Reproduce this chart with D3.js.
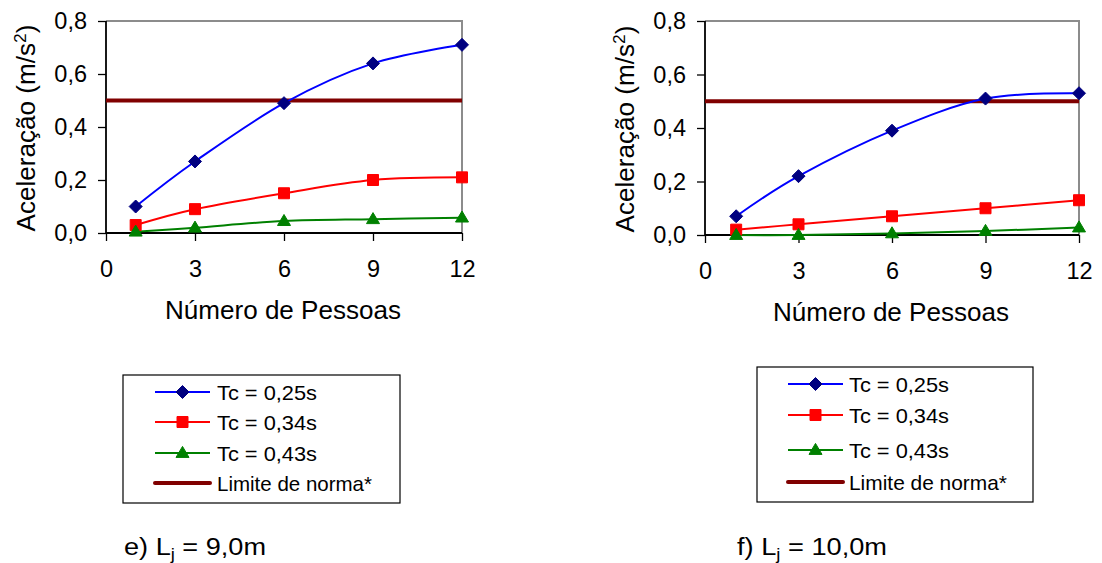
<!DOCTYPE html>
<html>
<head>
<meta charset="utf-8">
<script src="https://cdn.jsdelivr.net/npm/d3@7"></script>
<style>
  html, body { margin: 0; padding: 0; background: #fff; }
  svg { display: block; font-family: "Liberation Sans", Arial, sans-serif; }
</style>
</head>
<body>
<svg id="chart" width="1102" height="563"></svg>
<script>
// ---------- data ----------
const xValues = [1, 3, 6, 9, 12];
const xTicks = [0, 3, 6, 9, 12];
const yTicks = [0, 0.2, 0.4, 0.6, 0.8];
const yTickLabels = ["0,0", "0,2", "0,4", "0,6", "0,8"];
const seriesNames = ["Tc = 0,25s", "Tc = 0,34s", "Tc = 0,43s", "Limite de norma*"];
const seriesColors = ["#0000FF", "#FF0000", "#008000", "#800000"];
const markerColors = ["#000080", "#FF0000", "#008000", null];
const markerShapes = ["diamond", "square", "triangle", null];
const limitX = [0, 12];
const limitValue = 0.5;

// panel e) Lj = 9,0m
const panelE_tc025 = [0.10, 0.27, 0.49, 0.64, 0.71];
const panelE_tc034 = [0.03, 0.09, 0.15, 0.20, 0.21];
const panelE_tc043 = [0.005, 0.02, 0.045, 0.052, 0.058];
// panel f) Lj = 10,0m
const panelF_tc025 = [0.07, 0.22, 0.39, 0.51, 0.53];
const panelF_tc034 = [0.02, 0.04, 0.07, 0.10, 0.13];
const panelF_tc043 = [0.0, 0.0, 0.006, 0.015, 0.028];

const xTitle = "Número de Pessoas";
const yTitleMain = "Aceleração (m/s";
const captionE = ["e) L", "j", " = 9,0m"];
const captionF = ["f) L", "j", " = 10,0m"];

// ---------- layout ----------
const panels = [
  { series: [panelE_tc025, panelE_tc034, panelE_tc043], caption: captionE,
    plot: { x0: 106, x1: 462, y0: 21, y1: 233 },
    yTitleX: 35, xTitleY: 319, xTitleLen: 236, tickLabelY: 277,
    legend: { x: 123, y: 375, w: 277, h: 128, rows: [392, 422, 453, 483], lx0: 155, lx1: 210, tx: 217 },
    legendLens: [100, 100, 100, 155],
    capX: 124, capY: 555, capLen: 142 },
  { series: [panelF_tc025, panelF_tc034, panelF_tc043], caption: captionF,
    plot: { x0: 705, x1: 1079, y0: 21, y1: 235 },
    yTitleX: 634, xTitleY: 321, xTitleLen: 236, tickLabelY: 279,
    legend: { x: 757, y: 367, w: 276, h: 135, rows: [384, 415, 450, 482], lx0: 788, lx1: 843, tx: 849 },
    legendLens: [100, 100, 100, 158],
    capX: 737, capY: 555, capLen: 150 }
];

const svg = d3.select("#chart");

function drawMarker(g, shape, cx, cy, color) {
  let p;
  if (shape === "diamond") {
    const r = 6.5;
    p = `M${cx},${cy - r}L${cx + r},${cy}L${cx},${cy + r}L${cx - r},${cy}Z`;
  } else if (shape === "square") {
    const r = 5.5;
    p = `M${cx - r},${cy - r}H${cx + r}V${cy + r}H${cx - r}Z`;
  } else {
    const w = 6.5, h = 11;
    p = `M${cx},${cy - h * 0.6}L${cx + w},${cy + h * 0.4}L${cx - w},${cy + h * 0.4}Z`;
  }
  g.append("path").attr("d", p).attr("fill", color).attr("stroke", color).attr("stroke-width", 1);
}

panels.forEach(pn => {
  const P = pn.plot;
  const x = d3.scaleLinear().domain([0, 12]).range([P.x0, P.x1]);
  const y = d3.scaleLinear().domain([0, 0.8]).range([P.y1, P.y0]);
  const g = svg.append("g");

  // top/right gray border
  g.append("path")
    .attr("d", `M${P.x0},${P.y0}H${P.x1}V${P.y1}`)
    .attr("fill", "none").attr("stroke", "#8c8c8c").attr("stroke-width", 2);

  // axes
  const yAxis = d3.axisLeft(y).tickValues(yTicks).tickSize(8).tickPadding(11)
    .tickFormat((d, i) => yTickLabels[i]);
  const gy = g.append("g").attr("transform", `translate(${P.x0},0)`).call(yAxis);
  const xAxis = d3.axisBottom(x).tickValues(xTicks).tickSize(8).tickPadding(14)
    .tickFormat(d3.format("d"));
  const gx = g.append("g").attr("transform", `translate(0,${P.y1})`).call(xAxis);
  [gx, gy].forEach(a => {
    a.select(".domain").attr("stroke", "#000").attr("stroke-width", 1.8);
    a.selectAll(".tick line").attr("stroke", "#000").attr("stroke-width", 1.3);
    a.selectAll("text").attr("font-size", 23.5).attr("font-family", "Liberation Sans, Arial, sans-serif").attr("fill", "#000");
  });
  gx.select(".domain").attr("d", `M${P.x0},0H${P.x1}`);
  gy.select(".domain").attr("d", `M0,${P.y0}V${P.y1}`);
  gx.selectAll(".tick text").attr("dy", null).attr("y", pn.tickLabelY - P.y1);

  // limit line
  g.append("path")
    .attr("d", d3.line().x(d => x(d)).y(() => y(limitValue))(limitX))
    .attr("stroke", seriesColors[3]).attr("stroke-width", 4).attr("fill", "none");

  // series
  const line = d3.line().x((d, i) => x(xValues[i])).y(d => y(d)).curve(d3.curveCatmullRom.alpha(0));
  pn.series.forEach((vals, si) => {
    g.append("path").attr("d", line(vals)).attr("fill", "none")
      .attr("stroke", seriesColors[si]).attr("stroke-width", 2);
  });
  pn.series.forEach((vals, si) => {
    vals.forEach((v, i) => drawMarker(g, markerShapes[si], x(xValues[i]), y(v), markerColors[si]));
  });

  // x title
  g.append("text").attr("x", (P.x0 + P.x1) / 2 - 1).attr("y", pn.xTitleY)
    .attr("text-anchor", "middle").attr("font-size", 25)
    .attr("textLength", pn.xTitleLen).attr("lengthAdjust", "spacingAndGlyphs")
    .text(xTitle);

  // y title
  const yt = g.append("text")
    .attr("transform", `translate(${pn.yTitleX},${(P.y0 + P.y1) / 2 + 1}) rotate(-90)`)
    .attr("text-anchor", "middle").attr("font-size", 25.5)
    .attr("textLength", 207).attr("lengthAdjust", "spacingAndGlyphs");
  yt.append("tspan").text(yTitleMain);
  yt.append("tspan").attr("font-size", 17).attr("baseline-shift", "super").text("2");
  yt.append("tspan").text(")");

  // legend
  const L = pn.legend;
  g.append("rect").attr("x", L.x).attr("y", L.y).attr("width", L.w).attr("height", L.h)
    .attr("fill", "#fff").attr("stroke", "#000").attr("stroke-width", 1.2);
  seriesNames.forEach((name, si) => {
    const ry = L.rows[si];
    g.append("line").attr("x1", L.lx0).attr("x2", L.lx1).attr("y1", ry).attr("y2", ry)
      .attr("stroke", seriesColors[si]).attr("stroke-width", si === 3 ? 4 : 2)
      .attr("stroke-linecap", si === 3 ? "round" : "butt");
    if (markerShapes[si]) drawMarker(g, markerShapes[si], (L.lx0 + L.lx1) / 2, ry, markerColors[si]);
    g.append("text").attr("x", L.tx).attr("y", ry).attr("dy", "0.36em")
      .attr("font-size", 21).attr("textLength", pn.legendLens[si]).attr("lengthAdjust", "spacingAndGlyphs")
      .text(name);
  });

  // caption
  const c = g.append("text").attr("x", pn.capX).attr("y", pn.capY).attr("font-size", 23.5)
    .attr("textLength", pn.capLen).attr("lengthAdjust", "spacingAndGlyphs");
  c.append("tspan").text(pn.caption[0]);
  c.append("tspan").attr("font-size", 16).attr("dy", 5).text(pn.caption[1]);
  c.append("tspan").attr("dy", -5).text(pn.caption[2]);
});
</script>
</body>
</html>
